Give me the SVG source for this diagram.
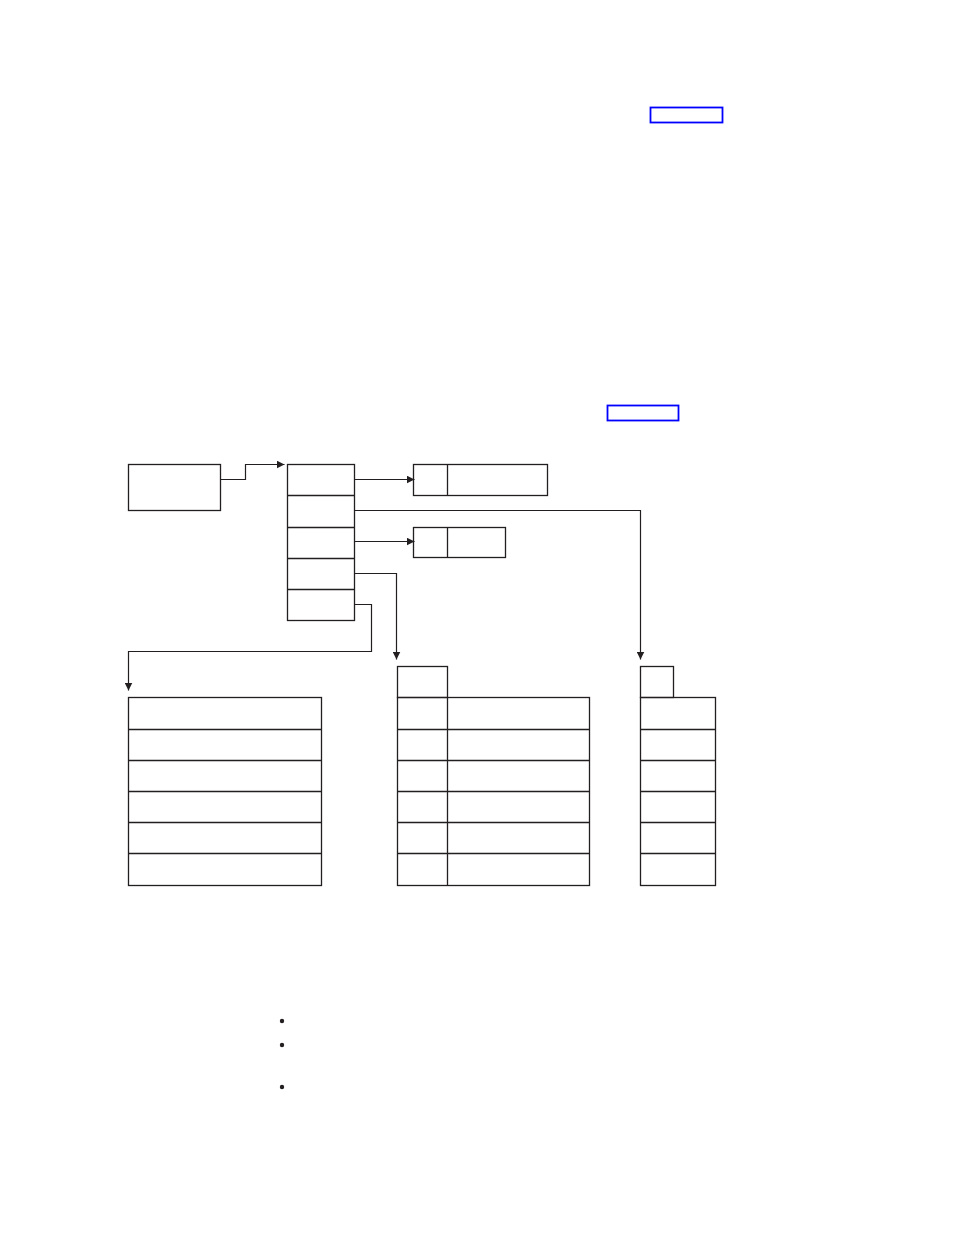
<svg xmlns="http://www.w3.org/2000/svg" width="954" height="1235" viewBox="0 0 954 1235">
<style>
.b{fill:none;stroke:#231f20;stroke-width:1.3}
.c{fill:none;stroke:#231f20;stroke-width:1.2}
.blue{fill:none;stroke:#0000ff;stroke-width:1.8}
</style>
<defs>
<marker id="ah" viewBox="0 0 10 10" refX="10" refY="5" markerWidth="8" markerHeight="8" markerUnits="userSpaceOnUse" orient="auto">
<path d="M0,0 L10,5 L0,10 z" fill="#231f20"/>
</marker>
</defs>
<rect width="954" height="1235" fill="#fff"/>
<g transform="translate(0.5,0.5)">
<rect class="blue" x="650" y="107" width="72" height="15"/>
<rect class="blue" x="607" y="405" width="71" height="15"/>
<g id="root"><rect class="b" x="128" y="464" width="92" height="46"/></g>
<g id="stack">
<rect class="b" x="287" y="464" width="67" height="156"/>
<path class="b" d="M287,495H354M287,527H354M287,558H354M287,589H354"/>
</g>
<g id="box1"><rect class="b" x="413" y="464" width="134" height="31"/><path class="b" d="M447,464V495"/></g>
<g id="box2"><rect class="b" x="413" y="527" width="92" height="30"/><path class="b" d="M447,527V557"/></g>
<g id="tableLeft">
<rect class="b" x="128" y="697" width="193" height="188"/>
<path class="b" d="M128,729H321M128,760H321M128,791H321M128,822H321M128,853H321"/>
</g>
<g id="tableMid">
<rect class="b" x="397" y="666" width="50" height="31"/>
<rect class="b" x="397" y="697" width="192" height="188"/>
<path class="b" d="M447,697V885M397,729H589M397,760H589M397,791H589M397,822H589M397,853H589"/>
</g>
<g id="tableRight">
<rect class="b" x="640" y="666" width="33" height="31"/>
<rect class="b" x="640" y="697" width="75" height="188"/>
<path class="b" d="M640,729H715M640,760H715M640,791H715M640,822H715M640,853H715"/>
</g>
<g id="connectors">
<path class="c" d="M220,479H245V464H284" marker-end="url(#ah)"/>
<path class="c" d="M354,479H414" marker-end="url(#ah)"/>
<path class="c" d="M354,510H640V659" marker-end="url(#ah)"/>
<path class="c" d="M354,541H414" marker-end="url(#ah)"/>
<path class="c" d="M354,573H396V659" marker-end="url(#ah)"/>
<path class="c" d="M354,604H371V651H128V690" marker-end="url(#ah)"/>
</g>
</g>
<g id="bullets" fill="#231f20">
<circle cx="282" cy="1021" r="2.2"/>
<circle cx="282" cy="1045" r="2.2"/>
<circle cx="282" cy="1087" r="2.2"/>
</g>
</svg>
